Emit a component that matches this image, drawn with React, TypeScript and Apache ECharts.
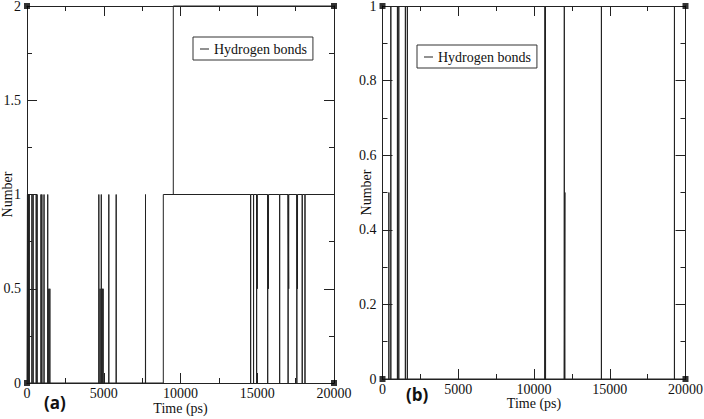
import React, { useEffect, useRef } from "react";
import * as echarts from "echarts";

// ---------- Panel (a) data ----------
// short excursions from 0 before the bond becomes persistent
const aSpikeTimes = [30, 90, 150, 320, 400, 600, 660, 910, 970, 1110, 1350, 1420, 1490, 4680, 4760, 4840, 4900, 4960, 5330, 5810, 7720];
const aSpikeLevels = [1, 1, 1, 1, 1, 1, 1, 1, 1, 1, 1, 0.5, 0.5, 1, 0.5, 1, 0.5, 0.5, 1, 1, 1];
const aOnsetTime = 8880; // number rises to 1 and stays
const aDipTimes = [14570, 14760, 14960, 15000, 15680, 15730, 16460, 17010, 17050, 17580, 17620, 17930, 18110];
const aDipLevels = [0, 0, 0, 0.5, 0, 0.5, 0, 0, 0.5, 0, 0.5, 0, 0];
// second hydrogen bond trace (1 -> 2)
const aSecondTimes = [9530, 9530, 20000];
const aSecondLevels = [1, 2, 2];

// ---------- Panel (b) data ----------
const bSpikeTimes = [420, 550, 985, 1075, 1510, 1640, 10720, 10760, 12000, 12040, 14450, 19270];
const bSpikeLevels = [0.5, 1, 1, 1, 1, 1, 1, 1, 1, 0.5, 1, 1];

// ---------- axes ----------
const timeMax = 20000;
const timeStep = 5000;
const aNumberMax = 2;
const aNumberStep = 0.5;
const bNumberMax = 1;
const bNumberStep = 0.2;

const HALF = 5; // half-width (ps) of one sampled excursion

function spikes(times: number[], levels: number[], base: number): number[][] {
  const pts: number[][] = [];
  times.forEach((t, i) => {
    pts.push([t - HALF, base], [t, levels[i]], [t + HALF, base]);
  });
  return pts;
}

function buildA(): number[][] {
  const pts: number[][] = [[0, 0]];
  pts.push(...spikes(aSpikeTimes, aSpikeLevels, 0));
  pts.push([aOnsetTime, 0], [aOnsetTime, 1]);
  pts.push(...spikes(aDipTimes, aDipLevels, 1));
  pts.push([timeMax, 1]);
  return pts;
}

function buildB(): number[][] {
  const pts: number[][] = [[0, 0]];
  pts.push(...spikes(bSpikeTimes, bSpikeLevels, 0));
  pts.push([timeMax, 0]);
  return pts;
}

const SERIF = "'Liberation Serif', 'Times New Roman', serif";
const AXIS_COLOR = "#222";
const TEXT_COLOR = "#111";
const plain = (v: number) => String(v);

function xAxisDef(grid: number, top: boolean, nameGap: number) {
  return {
    type: "value",
    gridIndex: grid,
    position: top ? "top" : "bottom",
    min: 0,
    max: timeMax,
    interval: timeStep,
    name: top ? "" : "Time (ps)",
    nameLocation: "middle",
    nameGap,
    nameMoveOverlap: false,
    nameTextStyle: { fontFamily: SERIF, fontSize: 14, lineHeight: 14, color: TEXT_COLOR },
    axisLine: { show: true, onZero: false, lineStyle: { color: AXIS_COLOR, width: 1 } },
    axisTick: { show: true, inside: true, length: 10, lineStyle: { color: AXIS_COLOR } },
    minorTick: { show: true, splitNumber: 2, length: 5, lineStyle: { color: AXIS_COLOR } },
    splitLine: { show: false },
    axisLabel: { show: !top, margin: 4, fontFamily: SERIF, fontSize: 14, lineHeight: 13, color: TEXT_COLOR, formatter: plain },
  };
}

function yAxisDef(grid: number, right: boolean, max: number, step: number, nameGap: number) {
  return {
    type: "value",
    gridIndex: grid,
    position: right ? "right" : "left",
    min: 0,
    max,
    interval: step,
    name: right ? "" : "Number",
    nameLocation: "middle",
    nameGap,
    nameMoveOverlap: false,
    nameTextStyle: { fontFamily: SERIF, fontSize: 14, color: TEXT_COLOR },
    axisLine: { show: true, onZero: false, lineStyle: { color: AXIS_COLOR, width: 1 } },
    axisTick: { show: true, inside: true, length: 10, lineStyle: { color: AXIS_COLOR } },
    minorTick: { show: true, splitNumber: 2, length: 5, lineStyle: { color: AXIS_COLOR } },
    splitLine: { show: false },
    axisLabel: { show: !right, margin: 6, fontFamily: SERIF, fontSize: 14, color: TEXT_COLOR, formatter: plain },
  };
}

const legendDef = (left: number, top: number) => ({
  left,
  top,
  orient: "vertical",
  data: ["Hydrogen bonds"],
  icon: "rect",
  itemWidth: 9,
  itemHeight: 1,
  padding: [5, 6, 4, 7],
  borderColor: "#333",
  borderWidth: 1,
  borderRadius: 0,
  backgroundColor: "#fff",
  textStyle: { fontFamily: SERIF, fontSize: 14, color: TEXT_COLOR },
  itemStyle: { color: "#222" },
});

export default function App() {
  const ref = useRef<HTMLDivElement>(null);
  useEffect(() => {
    if (!ref.current) return;
    const chart = echarts.init(ref.current, null, { renderer: "svg" });
    const lineStyle = { color: "#222", width: 1 };
    const aCorners = [[0, 0], [timeMax, 0], [0, aNumberMax], [timeMax, aNumberMax]];
    const bCorners = [[0, 0], [timeMax, 0], [0, bNumberMax], [timeMax, bNumberMax]];
    chart.setOption({
      animation: false,
      backgroundColor: "#fff",
      grid: [
        { left: 27, top: 6, width: 307, height: 377, containLabel: false, outerBoundsMode: "none" },
        { left: 382.5, top: 6, width: 303, height: 373, containLabel: false, outerBoundsMode: "none" },
      ],
      xAxis: [xAxisDef(0, false, 18), xAxisDef(0, true, 0), xAxisDef(1, false, 17), xAxisDef(1, true, 0)],
      yAxis: [
        yAxisDef(0, false, aNumberMax, aNumberStep, 13),
        yAxisDef(0, true, aNumberMax, aNumberStep, 0),
        yAxisDef(1, false, bNumberMax, bNumberStep, 9),
        yAxisDef(1, true, bNumberMax, bNumberStep, 0),
      ],
      legend: [legendDef(193, 37), legendDef(417, 45)],
      series: [
        { name: "Hydrogen bonds", type: "line", xAxisIndex: 0, yAxisIndex: 0, data: buildA(), showSymbol: false, symbol: "none", lineStyle, itemStyle: { color: "#222" }, clip: false },
        { name: "Hydrogen bonds", type: "line", xAxisIndex: 0, yAxisIndex: 0, data: aSecondTimes.map((t, i) => [t, aSecondLevels[i]]), showSymbol: false, symbol: "none", lineStyle, itemStyle: { color: "#222" }, clip: false },
        { name: "Hydrogen bonds", type: "line", xAxisIndex: 2, yAxisIndex: 2, data: buildB(), showSymbol: false, symbol: "none", lineStyle, itemStyle: { color: "#222" }, clip: false },
        { name: "corners", type: "scatter", xAxisIndex: 0, yAxisIndex: 0, data: aCorners, symbol: "rect", symbolSize: 6, itemStyle: { color: "#000" }, clip: false, silent: true },
        { name: "corners", type: "scatter", xAxisIndex: 2, yAxisIndex: 2, data: bCorners, symbol: "rect", symbolSize: 6, itemStyle: { color: "#000" }, clip: false, silent: true },
      ],
      graphic: [
        { type: "text", left: 44, top: 394, style: { text: "(a)", fontFamily: "'Open Sans', sans-serif", fontWeight: "bold", fontSize: 17, fill: "#111" } },
        { type: "text", left: 406, top: 386, style: { text: "(b)", fontFamily: "'Open Sans', sans-serif", fontWeight: "bold", fontSize: 17, fill: "#111" } },
      ],
    });
    return () => chart.dispose();
  }, []);
  return <div ref={ref} style={{ position: "absolute", left: 0, top: 0, width: 704, height: 419 }} />;
}
